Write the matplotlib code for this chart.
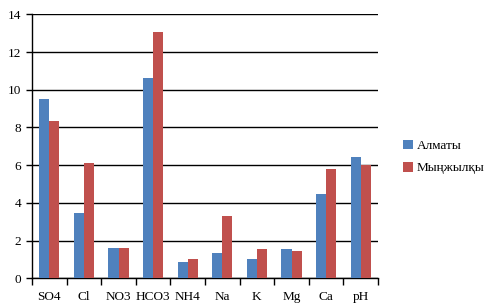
import numpy as np
import matplotlib.pyplot as plt

plt.rcParams['font.family'] = ['Liberation Serif', 'DejaVu Serif']

ions = ['SO4', 'Cl', 'NO3', 'HCO3', 'NH4', 'Na', 'K', 'Mg', 'Ca', 'pH']
almaty = [9.51, 3.46, 1.61, 10.62, 0.86, 1.34, 1.02, 1.55, 4.47, 6.43]
mynzhylky = [8.34, 6.11, 1.61, 13.06, 1.02, 3.30, 1.55, 1.45, 5.80, 6.00]

fig = plt.figure(figsize=(4.97, 3.08), dpi=100)
ax = fig.add_axes([0.0644, 0.0964, 0.6962, 0.857])

x = np.arange(len(ions))
w = 0.29
ax.bar(x - w / 2, almaty, w, color='#4F81BD', label='Алматы', zorder=3)
ax.bar(x + w / 2, mynzhylky, w, color='#C0504D', label='Мыңжылқы', zorder=3)

ax.set_xlim(-0.5, len(ions) - 0.5)
ax.set_ylim(0, 14)
ax.set_yticks(range(0, 15, 2))
ax.yaxis.grid(True, color='black', linewidth=1, zorder=0)

ax.set_xticks(x)
ax.set_xticklabels(ions, fontsize=9.5)
ax.tick_params(axis='x', length=0, pad=9)
ax.set_xticks(np.arange(-0.5, len(ions)), minor=True)
ax.tick_params(axis='x', which='minor', length=5, width=1, color='black')
ax.tick_params(axis='y', labelsize=9.5, length=4, width=1, pad=4)

for s in ['top', 'right']:
    ax.spines[s].set_visible(False)
for s in ['left', 'bottom']:
    ax.spines[s].set_linewidth(1)

fig.legend(loc='center left', bbox_to_anchor=(0.787, 0.49), frameon=False,
           fontsize=9.5, handlelength=0.75, handleheight=0.75, handletextpad=0.3,
           labelspacing=0.75)

fig.savefig('out.png', dpi=100)
